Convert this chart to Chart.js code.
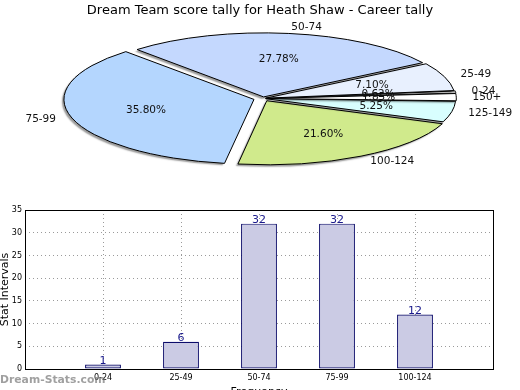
<!DOCTYPE html>
<html>
<head>
<meta charset="utf-8">
<script src="https://cdn.jsdelivr.net/npm/chart.js@4.4.1/dist/chart.umd.min.js"></script>
<style>
  body { margin: 0; width: 520px; height: 390px; overflow: hidden; position: relative; background: #fff; }
  .box { position: absolute; left: 0; width: 520px; height: 200px; }
  #wm { position: absolute; left: 0; top: 373px; font: bold 10.8px 'DejaVu Sans'; color: rgba(120,120,120,0.7); }
</style>
</head>
<body>
<div class="box" style="top:0"><canvas id="pieCanvas"></canvas></div>
<div class="box" style="top:200px"><canvas id="barCanvas"></canvas></div>
<div id="wm">Dream-Stats.com</div>
<script>
// ── data ─────────────────────────────────────────────────────────────────────
const pieLabels = ['0-24', '25-49', '50-74', '75-99', '100-124', '125-149', '150+'];
const pieShares = [0.62, 7.10, 27.78, 35.80, 21.60, 5.25, 1.85];
const pieColors = ['#ffffff', '#e8f0fe', '#c4d8fe', '#b4d6fe', '#d0ea8c', '#d8fefe', '#ffffff'];
const explode   = [0.015, 0.015, 0.025, 0.05, 0.04, 0.015, 0.015];

const barLabels = ['0-24', '25-49', '50-74', '75-99', '100-124'];
const barCounts = [1, 6, 32, 32, 12];
const yTicks    = [0, 5, 10, 15, 20, 25, 30, 35];

const FONT = "'DejaVu Sans', sans-serif";

// pie ellipse geometry (matplotlib squashes the pie into the axes box)
const PIE_R  = 60;
const PIE_CX = 263, PIE_CY = 98.5, PIE_RX = 188, PIE_RY = 64;

// ── pie: squash the circle into an ellipse, then put labels around it ───────
const ellipsePlugin = {
  id: 'ellipse',
  beforeDatasetsDraw(chart) {
    const ctx = chart.ctx;
    const arc = chart.getDatasetMeta(0).data[0];
    const dpr = chart.currentDevicePixelRatio || 1;
    ctx.save();
    ctx.translate(PIE_CX, PIE_CY);
    ctx.scale(PIE_RX / PIE_R, -PIE_RY / PIE_R);
    ctx.translate(-arc.x, -arc.y);
    ctx.shadowColor = 'rgba(0,0,0,0.4)';
    ctx.shadowOffsetX = -2;
    ctx.shadowOffsetY = 2;
    ctx.shadowBlur = 1.5;
    // keep edge lines 1px wide whatever the squash is
    const stroke = CanvasRenderingContext2D.prototype.stroke;
    ctx.stroke = function () {
      this.save();
      this.setTransform(dpr, 0, 0, dpr, 0, 0);
      this.shadowColor = 'rgba(0,0,0,0)';
      stroke.call(this);
      this.restore();
    };
  },
  afterDatasetsDraw(chart) {
    const ctx = chart.ctx;
    delete ctx.stroke;
    ctx.restore();

    const total = pieShares.reduce((a, b) => a + b, 0);
    ctx.save();
    ctx.fillStyle = '#111';
    ctx.font = `10.5px ${FONT}`;
    ctx.textBaseline = 'middle';
    chart.getDatasetMeta(0).data.forEach((arc, i) => {
      const mid = (arc.startAngle + arc.endAngle) / 2;
      const c = Math.cos(mid), s = Math.sin(mid);
      const e = explode[i];
      ctx.textAlign = c > 0 ? 'left' : 'right';
      ctx.fillText(pieLabels[i], PIE_CX + (e + 1.1) * PIE_RX * c, PIE_CY - (e + 1.1) * PIE_RY * s);
      ctx.textAlign = 'center';
      const pct = (pieShares[i] / total * 100).toFixed(2) + '%';
      ctx.fillText(pct, PIE_CX + (e + 0.6) * PIE_RX * c, PIE_CY - (e + 0.6) * PIE_RY * s);
    });
    ctx.restore();
  }
};

new Chart(document.getElementById('pieCanvas'), {
  type: 'pie',
  data: {
    labels: pieLabels,
    datasets: [{
      data: pieShares,
      backgroundColor: pieColors,
      borderColor: '#000',
      borderWidth: 1,
      // Chart.js moves an arc by offset/4
      offset: explode.map(e => e * PIE_R * 4),
    }]
  },
  options: {
    responsive: true, maintainAspectRatio: false, animation: false,
    rotation: 94.5,
    radius: PIE_R,
    plugins: {
      legend: { display: false },
      tooltip: { enabled: false },
      title: {
        display: true,
        text: 'Dream Team score tally for Heath Shaw - Career tally',
        color: '#000',
        font: { size: 13, family: FONT, weight: 'normal' },
        padding: { top: 3, bottom: 0 },
      },
    },
  },
  plugins: [ellipsePlugin],
});

// ── bar chart ────────────────────────────────────────────────────────────────
const barExtras = {
  id: 'barExtras',
  afterDatasetsDraw(chart) {
    const ctx = chart.ctx;
    ctx.save();
    ctx.fillStyle = '#1a1a8c';
    ctx.font = `11px ${FONT}`;
    ctx.textAlign = 'center';
    ctx.textBaseline = 'bottom';
    chart.getDatasetMeta(0).data.forEach((bar, i) => {
      ctx.fillText(String(barCounts[i]), bar.x, bar.y + 2);
    });
    ctx.restore();
  },
  afterDraw(chart) {
    const { left, top, right, bottom } = chart.chartArea;
    const ctx = chart.ctx;
    ctx.save();
    ctx.strokeStyle = '#000';
    ctx.lineWidth = 1;
    ctx.strokeRect(Math.round(left) + 0.5, Math.round(top) + 0.5, Math.round(right - left), Math.round(bottom - top));
    ctx.restore();
  }
};

const gridStyle = {
  color: 'rgba(120,120,120,0.75)',
  lineWidth: 1,
  drawTicks: false,
  tickLength: 0,
};

new Chart(document.getElementById('barCanvas'), {
  type: 'bar',
  data: {
    datasets: [{
      data: barCounts.map((v, i) => ({ x: i, y: v })),
      backgroundColor: '#cbcbe4',
      borderColor: '#0c0c6a',
      borderWidth: 1.2,
      borderSkipped: false,
      inflateAmount: 0,
      barPercentage: 0.46,
      categoryPercentage: 1,
    }]
  },
  options: {
    responsive: true, maintainAspectRatio: false, animation: false,
    layout: { padding: { top: 10, right: 27, left: 0, bottom: 0 } },
    plugins: { legend: { display: false }, tooltip: { enabled: false } },
    scales: {
      x: {
        type: 'linear', min: -1, max: 5, z: 1, offset: false,
        afterFit: s => { s.height = 31; },
        grid: { ...gridStyle, offset: false },
        border: { display: false, dash: [1, 3] },
        ticks: {
          stepSize: 1, padding: 4, color: '#000', autoSkip: false, maxRotation: 0,
          font: { size: 8, family: FONT },
          callback: v => barLabels[v] ?? '',
        },
        title: { display: true, text: 'Frequency', color: '#000', font: { size: 11, family: FONT }, padding: { top: 0, bottom: 1 } },
      },
      y: {
        min: 0, max: 35, z: 1,
        afterFit: s => { s.width = 25; },
        afterBuildTicks: s => { s.ticks = yTicks.map(v => ({ value: v })); },
        grid: { ...gridStyle },
        border: { display: false, dash: [1, 3] },
        ticks: { padding: 3, color: '#000', font: { size: 8, family: FONT } },
        title: { display: true, text: 'Stat Intervals', color: '#000', font: { size: 11, family: FONT, lineHeight: 1 }, padding: 0 },
      },
    },
  },
  plugins: [barExtras],
});
</script>
</body>
</html>
